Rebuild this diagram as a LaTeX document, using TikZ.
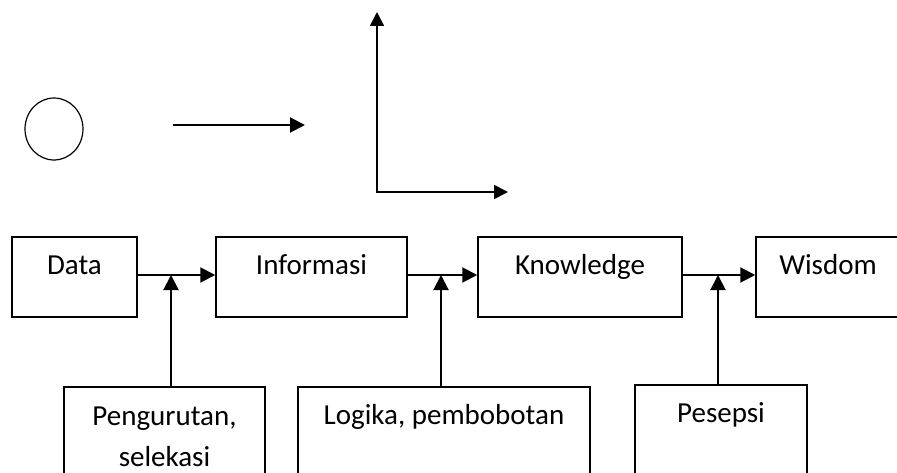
\documentclass[tikz,border=0pt]{standalone}
\usepackage{fontspec}
\setmainfont{Carlito}
\usetikzlibrary{arrows.meta,shapes.geometric}

\begin{document}
\begin{tikzpicture}[x=1pt, y=-1pt,
        stagebox/.style={draw, line width=1.5pt, minimum height=80pt, inner sep=0pt},
        sourcebox/.style={draw, line width=1.5pt, minimum height=140pt, inner sep=0pt},
        boxtext/.style={font=\fontsize{29}{41}\selectfont, inner sep=0pt, align=center},
        flow/.style={line width=2pt, -{Triangle[length=15pt, width=15pt]}},
]
        \clip (0,0) rectangle (897,473);

        \node[draw, ellipse, line width=1.2pt, minimum width=58pt, minimum height=62pt] (circ) at (54,129) {};
        \coordinate (arrowtail) at (173,125);
        \coordinate (arrowhead) at (305,125);
        \draw[flow] (arrowtail) -- (arrowhead);
        \coordinate (origin) at (377,192);
        \coordinate (ytip) at (377,12);
        \coordinate (xtip) at (508,192);
        \draw[line width=1.6pt, {Triangle[length=14pt, width=14pt]}-{Triangle[length=14pt, width=14pt]}] (ytip) -- (origin) -- (xtip);

        \node[stagebox, minimum width=125pt] (data) at (74.5,277) {};
        \node[stagebox, minimum width=191pt] (info) at (311.5,277) {};
        \node[stagebox, minimum width=204pt] (know) at (580,277) {};
        \node[stagebox, minimum width=150pt] (wisdom) at (831,277) {};
        \node[boxtext, anchor=base] (datatext) at ([yshift=-38pt]data.north) {Data};
        \node[boxtext, anchor=base] (infotext) at ([yshift=-38pt]info.north) {Informasi};
        \node[boxtext, anchor=base] (knowtext) at ([yshift=-38pt]know.north) {Knowledge};
        \node[boxtext, anchor=base] (wisdomtext) at ([xshift=-3pt, yshift=-38pt]wisdom.north) {Wisdom};

        \node[sourcebox, minimum width=201pt] (peng) at (164.5,457) {};
        \node[sourcebox, minimum width=292pt] (logika) at (444,457) {};
        \node[sourcebox, minimum width=172pt] (pesepsi) at (721,455) {};
        \node[boxtext, anchor=north] (pengtext) at ([yshift=-20pt]peng.north) {Pengurutan,\\selekasi};
        \node[boxtext, anchor=base] (logikatext) at ([yshift=-38pt]logika.north) {Logika, pembobotan};
        \node[boxtext, anchor=base] (pesepsitext) at ([yshift=-38pt]pesepsi.north) {Pesepsi};

        \coordinate (joinA) at (171,275);
        \coordinate (joinB) at (441,275);
        \coordinate (joinC) at (718,275);
        \draw[flow] (data.east |- joinA) -- (info.west |- joinA);
        \draw[flow] (info.east |- joinB) -- (know.west |- joinB);
        \draw[flow] (know.east |- joinC) -- (wisdom.west |- joinC);
        \draw[flow] (joinA |- peng.north) -- (joinA);
        \draw[flow] (joinB |- logika.north) -- (joinB);
        \draw[flow] (joinC |- pesepsi.north) -- (joinC);
\end{tikzpicture}
\end{document}
